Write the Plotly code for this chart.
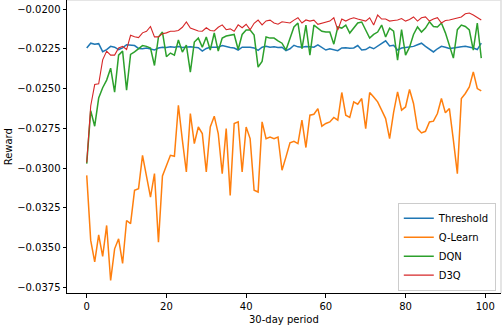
import plotly.graph_objects as go

# 30-day periods
periods = list(range(100))

threshold = [
    -0.02245, -0.02215, -0.02222, -0.02218, -0.02268, -0.02255, -0.02235, -0.02240, -0.02255, -0.02245,
    -0.02225, -0.02228, -0.02230, -0.02248, -0.02250, -0.02245, -0.02250, -0.02258, -0.02245, -0.02240,
    -0.02242, -0.02238, -0.02240, -0.02236, -0.02242, -0.02240, -0.02238, -0.02241, -0.02243, -0.02265,
    -0.02248, -0.02240, -0.02238, -0.02240, -0.02230, -0.02238, -0.02242, -0.02245, -0.02258, -0.02240,
    -0.02238, -0.02240, -0.02245, -0.02260, -0.02240, -0.02235, -0.02240, -0.02238, -0.02242, -0.02240,
    -0.02262, -0.02250, -0.02228, -0.02238, -0.02240, -0.02236, -0.02238, -0.02240, -0.02225, -0.02240,
    -0.02258, -0.02250, -0.02255, -0.02262, -0.02245, -0.02243, -0.02247, -0.02245, -0.02230, -0.02258,
    -0.02255, -0.02240, -0.02250, -0.02235, -0.02220, -0.02200, -0.02232, -0.02228, -0.02258, -0.02245,
    -0.02242, -0.02238, -0.02235, -0.02225, -0.02215, -0.02235, -0.02250, -0.02270, -0.02250, -0.02235,
    -0.02240, -0.02248, -0.02245, -0.02240, -0.02238, -0.02235, -0.02238, -0.02245, -0.02255, -0.02215,
]

q_learn = [
    -0.03046, -0.03455, -0.03590, -0.03420, -0.03555, -0.03361, -0.03707, -0.03508, -0.03445, -0.03600,
    -0.03330, -0.03350, -0.03140, -0.03130, -0.02920, -0.03065, -0.03183, -0.03035, -0.03466, -0.03050,
    -0.02990, -0.02920, -0.02926, -0.02605, -0.02825, -0.03025, -0.02657, -0.02846, -0.02742, -0.02783,
    -0.03025, -0.02742, -0.02674, -0.02783, -0.03035, -0.02752, -0.03172, -0.02720, -0.02710, -0.03025,
    -0.02742, -0.02815, -0.03140, -0.03151, -0.02710, -0.02815, -0.02805, -0.02815, -0.02805, -0.03014,
    -0.02930, -0.02842, -0.02832, -0.02846, -0.02699, -0.02871, -0.02668, -0.02662, -0.02626, -0.02737,
    -0.02720, -0.02710, -0.02682, -0.02699, -0.02525, -0.02668, -0.02682, -0.02584, -0.02599, -0.02563,
    -0.02752, -0.02525, -0.02553, -0.02584, -0.02636, -0.02689, -0.02815, -0.02650, -0.02521, -0.02636,
    -0.02616, -0.02506, -0.02594, -0.02752, -0.02779, -0.02769, -0.02710, -0.02705, -0.02657, -0.02563,
    -0.02653, -0.02626, -0.02825, -0.03035, -0.02563, -0.02531, -0.02490, -0.02395, -0.02500, -0.02515,
]

dqn = [
    -0.02972, -0.02640, -0.02737, -0.02560, -0.02495, -0.02447, -0.02372, -0.02523, -0.02290, -0.02265,
    -0.02510, -0.02285, -0.02270, -0.02250, -0.02230, -0.02235, -0.02245, -0.02355, -0.02176, -0.02145,
    -0.02300, -0.02277, -0.02290, -0.02195, -0.02271, -0.02227, -0.02397, -0.02208, -0.02183, -0.02240,
    -0.02176, -0.02258, -0.02151, -0.02265, -0.02183, -0.02170, -0.02164, -0.02160, -0.02255, -0.02160,
    -0.02132, -0.02132, -0.02164, -0.02365, -0.02330, -0.02176, -0.02183, -0.02183, -0.02200, -0.02215,
    -0.02258, -0.02183, -0.02113, -0.02088, -0.02250, -0.02101, -0.02290, -0.02101, -0.02120, -0.02140,
    -0.02145, -0.02145, -0.02221, -0.02113, -0.02120, -0.02101, -0.02151, -0.02120, -0.02088, -0.02082,
    -0.02130, -0.02183, -0.02160, -0.02145, -0.02101, -0.02176, -0.02120, -0.02140, -0.02321, -0.02130,
    -0.02290, -0.02240, -0.02160, -0.02113, -0.02145, -0.02120, -0.02080, -0.02110, -0.02113, -0.02088,
    -0.02150, -0.02230, -0.02309, -0.02130, -0.02101, -0.02110, -0.02132, -0.02258, -0.02088, -0.02309,
]

d3q = [
    -0.02965, -0.02610, -0.02475, -0.02470, -0.02320, -0.02265, -0.02290, -0.02290, -0.02245, -0.02235,
    -0.02255, -0.02165, -0.02175, -0.02180, -0.02150, -0.02140, -0.02110, -0.02175, -0.02175, -0.02155,
    -0.02150, -0.02140, -0.02140, -0.02135, -0.02115, -0.02082, -0.02120, -0.02130, -0.02138, -0.02140,
    -0.02118, -0.02135, -0.02138, -0.02115, -0.02100, -0.02130, -0.02125, -0.02140, -0.02100, -0.02118,
    -0.02096, -0.02130, -0.02090, -0.02070, -0.02100, -0.02075, -0.02070, -0.02088, -0.02096, -0.02080,
    -0.02085, -0.02088, -0.02070, -0.02055, -0.02088, -0.02069, -0.02076, -0.02070, -0.02096, -0.02088,
    -0.02080, -0.02076, -0.02055, -0.02132, -0.02063, -0.02076, -0.02063, -0.02055, -0.02063, -0.02070,
    -0.02076, -0.02055, -0.02101, -0.02038, -0.02063, -0.02063, -0.02076, -0.02072, -0.02069, -0.02060,
    -0.02076, -0.02066, -0.02050, -0.02076, -0.02055, -0.02050, -0.02076, -0.02063, -0.02055, -0.02088,
    -0.02072, -0.02069, -0.02063, -0.02058, -0.02050, -0.02030, -0.02025, -0.02038, -0.02055, -0.02069,
]

y_ticks = [-0.0375, -0.0350, -0.0325, -0.0300, -0.0275, -0.0250, -0.0225, -0.0200]
x_ticks = [0, 20, 40, 60, 80, 100]

fig = go.Figure()
series = [
    ("Threshold", threshold, "#1f77b4", 1.5),
    ("Q-Learn", q_learn, "#ff7f0e", 1.5),
    ("DQN", dqn, "#2ca02c", 1.5),
    ("D3Q", d3q, "#d62728", 1.1),
]
for name, vals, color, w in series:
    fig.add_trace(go.Scatter(x=periods, y=vals, mode="lines", name=name,
                             line=dict(color=color, width=w)))

# light frame on top / right like the cropped original
fig.add_shape(type="line", xref="paper", yref="paper", x0=0, x1=1, y0=1, y1=1,
              line=dict(color="#dddddd", width=1.5))
fig.add_shape(type="line", xref="paper", yref="paper", x0=1, x1=1, y0=0, y1=1,
              line=dict(color="#dddddd", width=1.5))

fig.update_layout(
    width=502, height=326,
    margin=dict(l=67, r=1, t=0, b=33, autoexpand=False),
    plot_bgcolor="white", paper_bgcolor="white",
    font=dict(family="DejaVu Sans", size=10, color="black"),
    legend=dict(x=0.988, y=0.008, xanchor="right", yanchor="bottom",
                bgcolor="rgba(255,255,255,0.8)", bordercolor="#cccccc", borderwidth=1,
                font=dict(size=10), itemwidth=30, tracegroupgap=0),
    xaxis=dict(range=[-4.95, 103.95], tickvals=x_ticks, showgrid=False, zeroline=False,
               showline=True, linecolor="black", linewidth=1, ticks="outside", ticklen=3.5,
               tickcolor="black", automargin=False),
    yaxis=dict(range=[-0.037858, -0.019434], tickvals=y_ticks, tickformat=".4f",
               showgrid=False, zeroline=False, showline=True, linecolor="black", linewidth=1,
               ticks="outside", ticklen=3.5, tickcolor="black", automargin=False),
    annotations=[
        dict(text="30-day period", xref="paper", yref="paper", x=0.5, y=-0.092,
             xanchor="center", yanchor="middle", showarrow=False, font=dict(size=10)),
        dict(text="Reward", xref="paper", yref="paper", x=-0.134, y=0.5, textangle=-90,
             xanchor="center", yanchor="middle", showarrow=False, font=dict(size=10)),
    ],
)

fig.write_html("out.html", config={"displayModeBar": False},
               post_script="document.body.style.margin='0';")
